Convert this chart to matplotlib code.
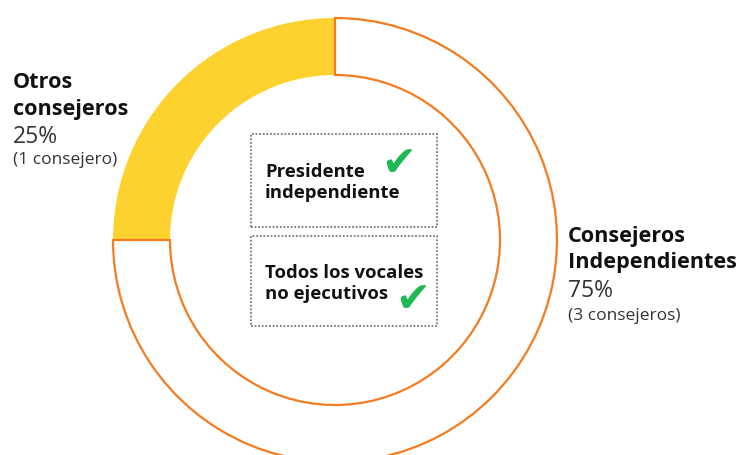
import matplotlib
matplotlib.use("Agg")
import matplotlib.pyplot as plt
from matplotlib.patches import Rectangle

# Data
categories = ["Otros consejeros", "Consejeros Independientes"]
shares = [25, 75]
counts = ["(1 consejero)", "(3 consejeros)"]
box_texts = [["Presidente", "independiente"], ["Todos los vocales", "no ejecutivos"]]

YELLOW = "#FDD22F"
ORANGE = "#F47B20"
GREEN = "#1DB954"

W, H = 739, 456
fig = plt.figure(figsize=(W / 100, H / 100), dpi=100)
ax = fig.add_axes([0, 0, 1, 1])

def py(y):
    return H - y

cx, cy = 335, py(241)
R, ring = 222, 57

wedges, _ = ax.pie(shares, colors=[YELLOW, "white"], startangle=90, counterclock=True,
                   radius=R, center=(cx, cy),
                   wedgeprops=dict(width=ring, linewidth=0))
wedges[1].set_edgecolor(ORANGE)
wedges[1].set_linewidth(1.6)
wedges[0].set_edgecolor(YELLOW)

ax.set_xlim(0, W)
ax.set_ylim(0, H)
ax.set_aspect("equal")
ax.axis("off")

FONT = "Open Sans"
BOLD_FS = 15.6
PCT_FS = 16.5
SMALL_FS = 12.5
BOX_FS = 13.3

def label(x, baselines, name_lines, pct, count):
    for yb, line in zip(baselines[:2], name_lines):
        ax.text(x, py(yb), line, fontsize=BOLD_FS, fontweight="bold", family=FONT,
                va="baseline", ha="left", color="#111111")
    ax.text(x, py(baselines[2]), f"{pct}%", fontsize=PCT_FS, family=FONT,
            va="baseline", ha="left", color="#333333")
    ax.text(x, py(baselines[3]), count, fontsize=SMALL_FS, family=FONT,
            va="baseline", ha="left", color="#333333")

label(13, [88, 115, 143, 164], ["Otros", "consejeros"], shares[0], counts[0])
label(568, [242, 268, 297, 320], ["Consejeros", "Independientes"], shares[1], counts[1])

# Boxes
boxes = [(251, 135, 186, 93), (251, 237, 186, 90)]
for (x0, y0, w, h) in boxes:
    ax.add_patch(Rectangle((x0, py(y0 + h)), w, h, fill=False, edgecolor="#7d7772",
                           linestyle=(0, (1, 1)), linewidth=1.3))

for lines, bases in zip(box_texts, [[177, 198], [278, 299]]):
    for line, yb in zip(lines, bases):
        ax.text(265, py(yb), line, fontsize=BOX_FS, fontweight="bold", family=FONT,
                va="baseline", ha="left", color="#111111")

ax.text(399, py(164), "\u2714", fontsize=30, color=GREEN, family="DejaVu Sans",
        ha="center", va="center")
ax.text(413, py(300), "\u2714", fontsize=30, color=GREEN, family="DejaVu Sans",
        ha="center", va="center")

fig.savefig("out.png", dpi=100)
